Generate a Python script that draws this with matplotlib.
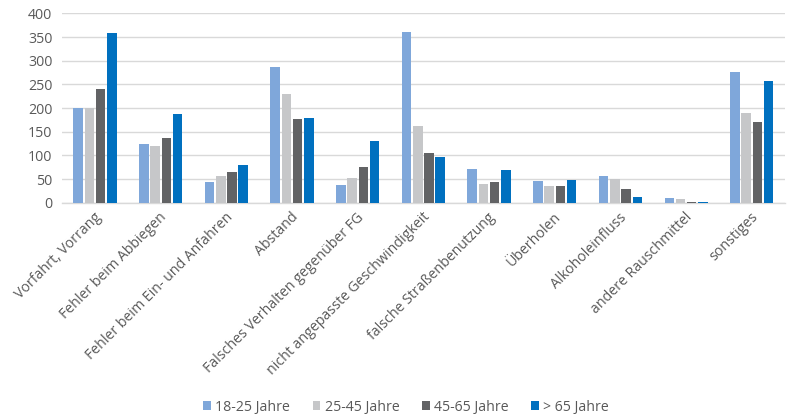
#!/usr/bin/env python3
"""Grouped bar chart: Unfallursachen nach Altersgruppe."""

import numpy as np
import matplotlib
matplotlib.use("Agg")
import matplotlib.pyplot as plt
import matplotlib.transforms as mtransforms

plt.rcParams["font.family"] = ["Open Sans", "DejaVu Sans"]

# ---------------------------------------------------------------------
# Data
# ---------------------------------------------------------------------
categories = [
    "Vorfahrt, Vorrang",
    "Fehler beim Abbiegen",
    "Fehler beim Ein- und Anfahren",
    "Abstand",
    "Falsches Verhalten gegenüber FG",
    "nicht angepasste Geschwindigkeit",
    "falsche Straßenbenutzung",
    "Überholen",
    "Alkoholeinfluss",
    "andere Rauschmittel",
    "sonstiges",
]
series_names = ["18-25 Jahre", "25-45 Jahre", "45-65 Jahre", "> 65 Jahre"]
age_18_25 = [201, 125, 44, 286, 37, 361, 72, 45, 57, 10, 277]
age_25_45 = [200, 120, 56, 230, 52, 163, 40, 35, 50, 8, 189]
age_45_65 = [241, 137, 65, 176, 75, 104, 43, 35, 29, 2, 171]
age_65_plus = [359, 187, 80, 178, 130, 97, 69, 47, 12, 1.5, 258]

colors = ["#7FA7DA", "#C6C7C9", "#626365", "#0070BF"]
text_color = "#595959"
grid_color = "#D9D9D9"

# ---------------------------------------------------------------------
# Plot
# ---------------------------------------------------------------------
fig = plt.figure(figsize=(7.87, 4.18), dpi=100)
ax = fig.add_axes([0.079, 0.515, 0.918, 0.453])

x = np.arange(len(categories))
slot = 0.171
width = 0.145
all_series = [age_18_25, age_25_45, age_45_65, age_65_plus]
for i, (vals, name, col) in enumerate(zip(all_series, series_names, colors)):
    offs = (i - 1.5) * slot
    ax.bar(x + offs, vals, width, color=col, label=name, zorder=3)

ax.set_xlim(-0.5, len(categories) - 0.5)
ax.set_ylim(0, 400)
ax.set_yticks(np.arange(0, 401, 50))
ax.yaxis.grid(True, color=grid_color, linewidth=1.0, zorder=0)
ax.set_axisbelow(True)

for side in ["top", "right", "left"]:
    ax.spines[side].set_visible(False)
ax.spines["bottom"].set_color(grid_color)
ax.spines["bottom"].set_linewidth(1.0)

ax.tick_params(axis="both", length=0, colors=text_color, labelsize=10.2)
ax.tick_params(axis="y", pad=7)
ax.tick_params(axis="x", pad=9)
ax.set_xticks(x)
ax.set_xticklabels(categories, rotation=45, ha="right", va="center",
                   rotation_mode="anchor")
shift = mtransforms.ScaledTranslation(4 / 100, 0, fig.dpi_scale_trans)
for lbl in ax.get_xticklabels():
    lbl.set_transform(lbl.get_transform() + shift)

fig.legend(loc="center", bbox_to_anchor=(406 / 787, 11 / 418), ncol=4,
           frameon=False, fontsize=10.2, labelcolor=text_color,
           handlelength=0.55, handleheight=0.55, handletextpad=0.3,
           columnspacing=1.6)

fig.savefig("out.png", dpi=100)
plt.close(fig)
